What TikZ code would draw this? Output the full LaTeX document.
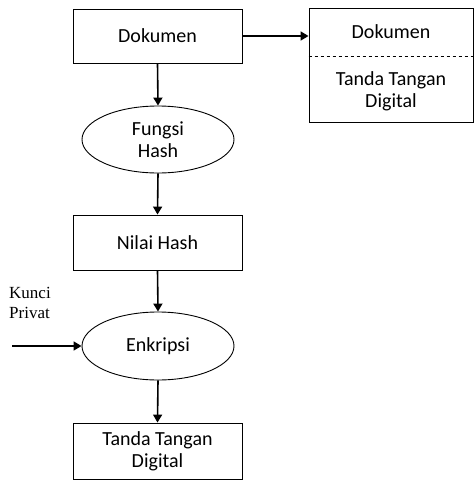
\documentclass[tikz,border=0pt]{standalone}
\usepackage{fontspec}
\setmainfont{Carlito}
\newfontfamily\serifkunci{Liberation Serif}
\usetikzlibrary{arrows.meta,shapes.geometric,calc}
\tikzset{
  boxnode/.style={draw,line width=0.9pt,rectangle,inner sep=0pt,font=\fontsize{20}{22}\selectfont,align=center},
  ellnode/.style={draw,line width=0.9pt,ellipse,inner sep=0pt,font=\fontsize{20}{22}\selectfont,align=center},
  txt/.style={inner sep=0pt,font=\fontsize{20}{22}\selectfont,align=center},
  flow/.style={line width=1.6pt,-{Triangle[length=8pt,width=9pt]}}
}
\begin{document}
\begin{tikzpicture}[x=1pt,y=-1pt]
\useasboundingbox (0,0) rectangle (474,480);
\node[boxnode,minimum width=169pt,minimum height=54pt] (doc) at (157.5,36) {Dokumen};
\node[boxnode,minimum width=164pt,minimum height=114pt] (sig) at (391,65) {};
\node[txt] (sigdoc) at (391,32) {Dokumen};
\node[txt] (sigttd) at (391,91) {Tanda Tangan\\Digital};
\draw[dashed,line width=0.8pt] ($(sig.north west)+(0,49)$) -- ($(sig.north east)+(0,49)$);
\node[ellnode,minimum width=152pt,minimum height=67pt] (hash) at (158,139.5) {Fungsi\\Hash};
\node[boxnode,minimum width=169pt,minimum height=55pt] (nilai) at (157.5,242.5) {Nilai Hash};
\node[ellnode,minimum width=152pt,minimum height=68pt] (enk) at (158,346) {Enkripsi};
\node[boxnode,minimum width=169pt,minimum height=56pt] (ttd) at (157.5,451) {Tanda Tangan\\Digital};
\node[inner sep=0pt,font=\serifkunci\fontsize{17}{20}\selectfont,align=left,anchor=west] (kunci) at (9,303) {Kunci\\Privat};
\coordinate (kin) at (12,346);
\draw[flow] (doc.east) -- (doc.east -| sig.west);
\draw[flow] (doc.south) -- (hash.north);
\draw[flow] (hash.south) -- (nilai.north);
\draw[flow] (nilai.south) -- (enk.north);
\draw[flow] (enk.south) -- (ttd.north);
\draw[flow] (kin) -- (enk.west);
\end{tikzpicture}
\end{document}
